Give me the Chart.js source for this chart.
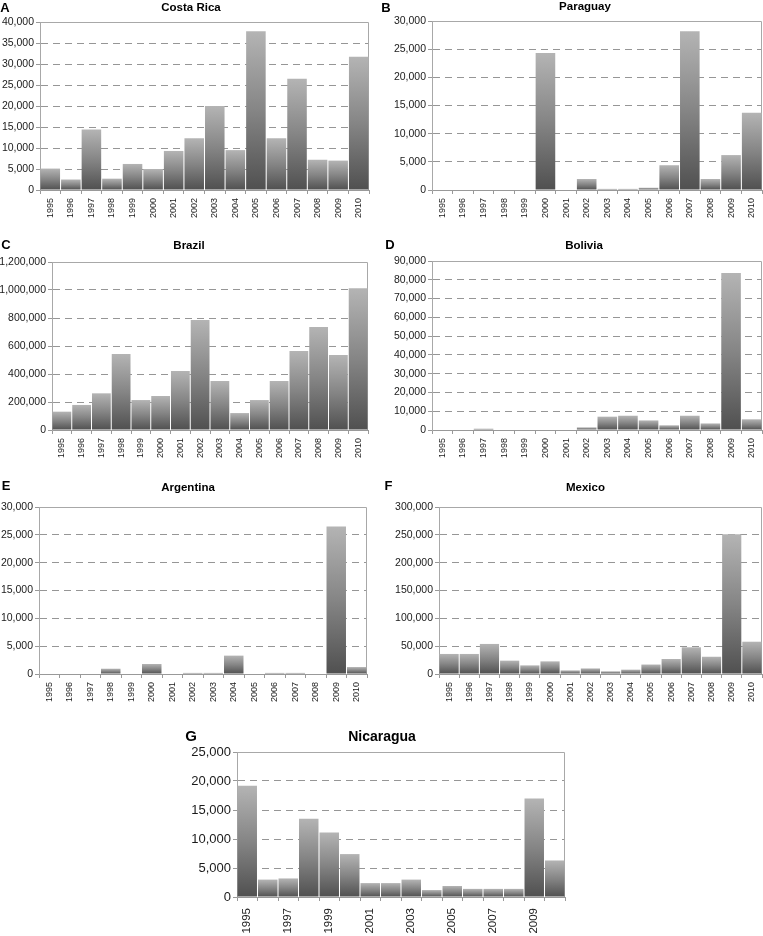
<!DOCTYPE html>
<html>
<head>
<meta charset="utf-8">
<script src="https://cdn.jsdelivr.net/npm/chart.js@4.4.1/dist/chart.umd.min.js"></script>
<style>
  html, body { margin: 0; padding: 0; background: #fff; overflow: hidden; }
  body { width: 763px; height: 936px; position: relative; font-family: "Liberation Sans", Arial, sans-serif; }
  canvas { position: absolute; }
  .lbl { position: absolute; transform: translate(-50%, -50%); font-weight: bold; color: #000; white-space: nowrap; line-height: 1; z-index: 2; }
</style>
</head>
<body>
<script>
// data
const years = ['1995', '1996', '1997', '1998', '1999', '2000', '2001', '2002',
               '2003', '2004', '2005', '2006', '2007', '2008', '2009', '2010'];

const costaRica = [5100, 2500, 14400, 2700, 6200, 5000, 9300, 12300, 20000, 9500, 37800, 12300, 26500, 7200, 7000, 31700];
const paraguay  = [0, 0, 0, 0, 0, 24300, 0, 1950, 200, 200, 400, 4400, 28200, 1950, 6200, 13700];
const brazil    = [131000, 179000, 262000, 543000, 214000, 243000, 421000, 786000, 350000, 121000, 214000, 350000, 564000, 736000, 536000, 1012000];
const bolivia   = [0, 0, 700, 0, 0, 0, 0, 1400, 7100, 7600, 5100, 2500, 7600, 3500, 83600, 5700];
const argentina = [0, 0, 0, 950, 0, 1800, 0, 200, 200, 3300, 0, 200, 200, 0, 26500, 1250];
const mexico    = [36000, 36000, 54000, 24000, 15500, 22700, 6500, 10000, 4800, 7800, 17000, 27000, 48000, 31000, 251000, 58000];
const nicaragua = [19200, 3000, 3200, 13500, 11100, 7400, 2400, 2400, 3000, 1200, 1900, 1400, 1400, 1400, 17000, 6300];

// y axis ranges
const yMax  = [40000, 30000, 1200000, 90000, 30000, 300000, 25000];
const yStep = [5000, 5000, 200000, 10000, 5000, 50000, 5000];

const panels = [
  { letter: 'A', title: 'Costa Rica', values: costaRica, area: [40, 22, 369, 190],  letterAt: [5, 7],     titleAt: [191, 7.5] },
  { letter: 'B', title: 'Paraguay',   values: paraguay,  area: [432, 21, 762, 190], letterAt: [386, 6.5], titleAt: [585, 6.5] },
  { letter: 'C', title: 'Brazil',     values: brazil,    area: [52, 262, 368, 430], letterAt: [6, 244],   titleAt: [189, 246] },
  { letter: 'D', title: 'Bolivia',    values: bolivia,   area: [432, 261, 762, 430], letterAt: [390, 244], titleAt: [584, 246] },
  { letter: 'E', title: 'Argentina',  values: argentina, area: [39, 507, 367, 674], letterAt: [6, 484.5], titleAt: [188, 487.5] },
  { letter: 'F', title: 'Mexico',     values: mexico,    area: [439, 507, 762, 674], letterAt: [388.5, 484.5], titleAt: [585.5, 487.5] },
  { letter: 'G', title: 'Nicaragua',  values: nicaragua, area: [237, 752, 565, 897], letterAt: [191, 735], titleAt: [382, 735.5], big: true }
];

// light top/right edge of the plot box
const frame = {
  id: 'frame',
  beforeDatasetsDraw(chart) {
    const { ctx, chartArea: a } = chart;
    ctx.save();
    ctx.strokeStyle = '#a8a8a8';
    ctx.lineWidth = 1;
    ctx.beginPath();
    ctx.moveTo(a.left, a.top + 0.5);
    ctx.lineTo(a.right - 0.5, a.top + 0.5);
    ctx.lineTo(a.right - 0.5, a.bottom);
    ctx.stroke();
    ctx.restore();
  }
};

function barFill(context) {
  const chart = context.chart;
  if (!chart.chartArea || context.type !== 'data') return '#808080';
  const y = chart.scales.y;
  const top = y.getPixelForValue(context.raw);
  const base = y.getPixelForValue(0);
  if (base - top < 1) return '#6a6a6a';
  const g = chart.ctx.createLinearGradient(0, top, 0, base);
  g.addColorStop(0, '#b4b4b4');
  g.addColorStop(0.5, '#858585');
  g.addColorStop(1, '#505050');
  return g;
}

const YW = 60, PT = 10, PR = 4, XH = 48;

panels.forEach(function(p, idx) {
  const [l, t, r, b] = p.area;
  const big = !!p.big;

  const letter = document.createElement('div');
  letter.className = 'lbl';
  letter.textContent = p.letter;
  letter.style.left = p.letterAt[0] + 'px';
  letter.style.top = p.letterAt[1] + 'px';
  letter.style.fontSize = big ? '15px' : '13px';
  document.body.appendChild(letter);

  const title = document.createElement('div');
  title.className = 'lbl';
  title.textContent = p.title;
  title.style.left = p.titleAt[0] + 'px';
  title.style.top = p.titleAt[1] + 'px';
  title.style.fontSize = big ? '14px' : '11.5px';
  document.body.appendChild(title);

  const cv = document.createElement('canvas');
  const w = (r - l) + YW + PR;
  const h = (b - t) + PT + XH;
  cv.width = w;
  cv.height = h;
  cv.style.left = (l - YW) + 'px';
  cv.style.top = (t - PT) + 'px';
  cv.style.width = w + 'px';
  cv.style.height = h + 'px';
  document.body.appendChild(cv);

  const max = yMax[idx];

  new Chart(cv.getContext('2d'), {
    type: 'bar',
    data: {
      labels: years,
      datasets: [{
        data: p.values,
        backgroundColor: barFill,
        borderWidth: 0,
        barPercentage: 0.95,
        categoryPercentage: 1
      }]
    },
    options: {
      responsive: false,
      animation: false,
      devicePixelRatio: 1,
      layout: { padding: { left: 0, top: PT, right: PR, bottom: 0 } },
      plugins: {
        legend: { display: false },
        tooltip: { enabled: false },
        title: { display: false }
      },
      scales: {
        x: {
          afterFit: function(s) {
            s.height = XH;
            s.paddingLeft = 0;
            s.paddingRight = 0;
          },
          grid: { drawOnChartArea: false, drawTicks: true, tickLength: 4, tickColor: '#999' },
          border: { color: '#999' },
          ticks: {
            autoSkip: false,
            minRotation: 90,
            maxRotation: 90,
            padding: big ? 7 : 4,
            color: '#1a1a1a',
            font: { family: '"Liberation Sans", Arial, sans-serif', size: big ? 11.5 : 9 },
            callback: function(v, i) {
              if (big && i % 2 === 1) return '';
              return this.getLabelForValue(v);
            }
          }
        },
        y: {
          min: 0,
          max: max,
          afterFit: function(s) {
            s.width = YW;
            s.paddingTop = 0;
            s.paddingBottom = 0;
          },
          grid: {
            drawTicks: true,
            tickLength: 4,
            tickColor: '#999',
            tickBorderDash: [],
            color: function(c) {
              if (c.tick && (c.tick.value === max || c.tick.value === 0)) return 'rgba(0,0,0,0)';
              return '#969696';
            }
          },
          border: { color: '#a8a8a8', dash: [7, 5] },
          ticks: {
            stepSize: yStep[idx],
            padding: 2,
            color: '#1a1a1a',
            font: { family: '"Liberation Sans", Arial, sans-serif', size: big ? 13 : 10.5 },
            callback: function(v) { return Number(v).toLocaleString('en-US'); }
          }
        }
      }
    },
    plugins: [frame]
  });
});
</script>
</body>
</html>
